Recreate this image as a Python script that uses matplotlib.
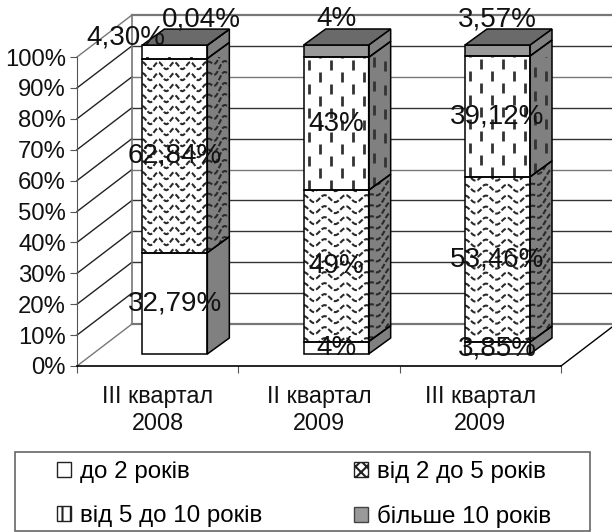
import numpy as np
import matplotlib
matplotlib.use('Agg')
import matplotlib.pyplot as plt
from matplotlib.patches import Patch, Polygon, Rectangle

plt.rcParams['font.family'] = ['Liberation Sans', 'DejaVu Sans']
plt.rcParams['hatch.linewidth'] = 1.5

# values, bottom to top of each stack
quarters = ['III квартал\n2008', 'II квартал\n2009', 'III квартал\n2009']
series_names = ['до 2 років', 'від 2 до 5 років', 'від 5 до 10 років', 'більше 10 років']
up_to_2 = [32.79, 4, 3.85]
from_2_to_5 = [62.84, 49, 53.46]
from_5_to_10 = [4.30, 43, 39.12]
over_10 = [0.04, 4, 3.57]
label_up_to_2 = ['32,79%', '4%', '3,85%']
label_2_to_5 = ['62,84%', '49%', '53,46%']
label_5_to_10 = ['4,30%', '43%', '39,12%']
label_over_10 = ['0,04%', '4%', '3,57%']

W, H = 612, 532
SX = 3 / 484   # x data units per pixel
SY = 100 / 309  # y data units per pixel

fig = plt.figure(figsize=(W / 100, H / 100), dpi=100)
ax = fig.add_axes([77 / W, (H - 366) / H, 484 / W, 309 / H])
ax.set_xlim(0, 3)
ax.set_ylim(0, 100)
ax.patch.set_alpha(0)
for name in ['top', 'right']:
    ax.spines[name].set_visible(False)
ax.spines['left'].set_color('#555555')
ax.spines['bottom'].set_color('black')
ax.spines['bottom'].set_linewidth(1.2)

ax.set_yticks(range(0, 101, 10))
ax.set_yticklabels([f'{v}%' for v in range(0, 101, 10)], fontsize=17.2, color='#111111')
ax.set_xticks([0, 1, 2, 3])
ax.set_xticklabels([])
ax.set_xticks([0.5, 1.5, 2.5], minor=True)
ax.set_xticklabels(quarters, minor=True, fontsize=16.8, linespacing=1.2, color='#111111')
ax.tick_params(axis='x', which='minor', length=0, pad=14)
ax.tick_params(axis='x', which='major', length=5, color='#555555')
ax.tick_params(axis='y', length=5, color='#555555', pad=3)

# walls and floor
wall_dx, wall_dy = 55 * SX, 42 * SY
for v in range(0, 101, 10):
    grey = v in (0, 100)
    col = '#777777' if grey else '#222222'
    ax.plot([0, wall_dx], [v, v + wall_dy], color=col, lw=1, clip_on=False, zorder=1)
    ax.plot([wall_dx, 3 + wall_dx], [v + wall_dy, v + wall_dy],
            color='#777777' if v in (0, 50, 80, 100) else '#333333',
            lw=1.6 if grey else 1, clip_on=False, zorder=1)
ax.plot([wall_dx, wall_dx], [wall_dy, 100 + wall_dy], color='#777777', lw=1.2, clip_on=False, zorder=1)
ax.plot([3, 3 + wall_dx], [0, wall_dy], color='black', lw=1, clip_on=False, zorder=1)


def draw_pattern(poly, origin, u, size, kind, period, z):
    # pattern is laid out in pixels along the face, then clipped to it
    w, h = size
    o = np.array(origin)
    u = np.array(u)
    if kind == 'wave':
        a = np.linspace(0, w, max(int(w) * 2, 2))
        for b0 in np.arange(-11, h + 22, 11):
            b = b0 + 3.5 * np.cos(2 * np.pi * a / period)
            line, = ax.plot(o[0] + a * u[0], o[1] + a * u[1] + b * SY,
                            color='#2a2a2a', lw=1.5, ls=(0, (2.6, 1.0)), zorder=z)
            line.set_clip_path(poly)
    elif kind == 'dash':
        for k, a in enumerate(np.arange(5, w + 11, 11)):
            for b in np.arange(-24 + 12 * (k % 2), h + 24, 24):
                line, = ax.plot([o[0] + a * u[0]] * 2,
                                [o[1] + a * u[1] + b * SY, o[1] + a * u[1] + (b + 10) * SY],
                                color='#333333', lw=2.0, solid_capstyle='butt', zorder=z)
                line.set_clip_path(poly)


def draw_segment(left, width, y0, y1, kind, period):
    dx, dy = 22 * SX, 16 * SY
    width_px = width / SX
    h_px = (y1 - y0) / SY
    front_col = {'plain': 'white', 'wave': 'white', 'dash': 'white', 'grey': '#999999'}[kind]
    front = Polygon([(left, y0), (left + width, y0), (left + width, y1), (left, y1)],
                    fc=front_col, ec='none', clip_on=False, zorder=3)
    ax.add_patch(front)
    side = Polygon([(left + width, y0), (left + width + dx, y0 + dy),
                    (left + width + dx, y1 + dy), (left + width, y1)],
                   fc='#808080', ec='none', clip_on=False, zorder=3)
    ax.add_patch(side)
    draw_pattern(front, (left, y0), (SX, 0), (width_px, h_px), kind, period, 4)
    draw_pattern(side, (left + width, y0), (SX, SY * 16 / 22), (22, h_px + 16), kind, period, 4)
    ax.add_patch(Polygon(front.get_xy(), fc='none', ec='black', lw=1.1, clip_on=False, zorder=5))
    ax.add_patch(Polygon(side.get_xy(), fc='none', ec='black', lw=1.1, clip_on=False, zorder=5))


stacks = [up_to_2, from_2_to_5, from_5_to_10, over_10]
labels = [label_up_to_2, label_2_to_5, label_5_to_10, label_over_10]
kinds = ['plain', 'wave', 'dash', 'grey']
base = 12 * SY
bar_width = 65 * SX

for i in range(len(quarters)):
    left = i + 0.405
    period = 16 if i == 0 else 21
    bottom = base
    for s in range(4):
        top = bottom + stacks[s][i]
        draw_segment(left, bar_width, bottom, top, kinds[s], period)
        bottom = top
    ax.add_patch(Polygon([(left, bottom), (left + bar_width, bottom),
                          (left + bar_width + 22 * SX, bottom + 16 * SY),
                          (left + 22 * SX, bottom + 16 * SY)],
                         fc='#6a6a6a', ec='black', lw=1.1, clip_on=False, zorder=5))

    # data labels
    bottom = base
    for s in range(4):
        mid = bottom + stacks[s][i] / 2
        x = left + bar_width / 2
        if s == 3:
            mid = base + 100 + 26 * SY
            if i == 0:
                x += 27 * SX
        if s == 2 and i == 0:
            x -= 49 * SX
            mid = base + 100.5 + 2
        ax.text(x, mid, labels[s][i], ha='center', va='center', fontsize=20,
                color='#111111', zorder=6, clip_on=False)
        bottom += stacks[s][i]

fig.add_artist(Rectangle((15 / W, 1.5 / H), 575 / W, 78.5 / H, transform=fig.transFigure,
                         fc='white', ec='#666666', lw=1.2))
handles = [Patch(fc='white', ec='#222222', label=series_names[0]),
           Patch(fc='white', ec='#222222', hatch='||', label=series_names[2]),
           Patch(fc='white', ec='#222222', hatch='xxx', label=series_names[1]),
           Patch(fc='#999999', ec='#444444', label=series_names[3])]
fig.legend(handles=handles, ncol=2, loc='upper left',
           bbox_to_anchor=(57 / W, (H - 461) / H),
           fontsize=17.4, frameon=False, handlelength=0.58, handleheight=0.58,
           handletextpad=0.36, borderpad=0, borderaxespad=0, labelspacing=0.92,
           columnspacing=3.8)

fig.savefig('out.png', dpi=100)
